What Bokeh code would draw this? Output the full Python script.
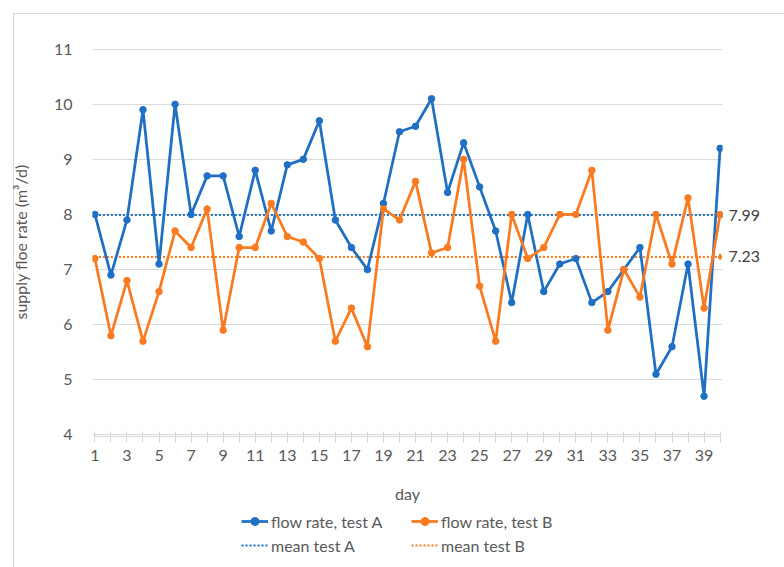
from bokeh.plotting import figure
from bokeh.models import Range1d, FixedTicker, Legend, LegendItem, LinearAxis, PrintfTickFormatter
from bokeh.layouts import column
from bokeh.embed import file_html
from bokeh.resources import INLINE

# ---- data ----
days = list(range(1, 41))
flow_a = [8.0, 6.9, 7.9, 9.9, 7.1, 10.0, 8.0, 8.7, 8.7, 7.6,
          8.8, 7.7, 8.9, 9.0, 9.7, 7.9, 7.4, 7.0, 8.2, 9.5,
          9.6, 10.1, 8.4, 9.3, 8.5, 7.7, 6.4, 8.0, 6.6, 7.1,
          7.2, 6.4, 6.6, 7.0, 7.4, 5.1, 5.6, 7.1, 4.7, 9.2]
flow_b = [7.2, 5.8, 6.8, 5.7, 6.6, 7.7, 7.4, 8.1, 5.9, 7.4,
          7.4, 8.2, 7.6, 7.5, 7.2, 5.7, 6.3, 5.6, 8.1, 7.9,
          8.6, 7.3, 7.4, 9.0, 6.7, 5.7, 8.0, 7.2, 7.4, 8.0,
          8.0, 8.8, 5.9, 7.0, 6.5, 8.0, 7.1, 8.3, 6.3, 8.0]
mean_a = 7.99
mean_b = 7.23
x_labeled_days = list(range(1, 41, 2))
x_minor_days = list(range(2, 41, 2))
y_ticks = [4, 5, 6, 7, 8, 9, 10, 11]

series_names = ["flow rate, test A", "flow rate, test B", "mean test A", "mean test B"]

BLUE = "#1f6fc5"
ORANGE = "#fa7b1f"
GRID = "#d9d9d9"
TXT = "#595959"
FONT = "Lato"

# ---------------- main chart ----------------
p = figure(width=784, height=508, output_backend="svg", toolbar_location=None,
           x_range=Range1d(0.85, 40.15), y_range=Range1d(3.97, 11.03),
           min_border_left=92, min_border_right=62, min_border_top=47,
           min_border_bottom=72)
p.outline_line_color = None
p.background_fill_color = "white"
p.border_fill_alpha = 0

# grid
p.xgrid.visible = False
p.ygrid.ticker = FixedTicker(ticks=y_ticks)
p.ygrid.grid_line_color = GRID
p.ygrid.grid_line_width = 1

# x axis
xa = p.xaxis[0]
xa.ticker = FixedTicker(ticks=x_labeled_days, minor_ticks=x_minor_days)
xa.bounds = (days[0], days[-1])
xa.axis_line_color = GRID
xa.major_tick_line_color = GRID
xa.minor_tick_line_color = GRID
xa.major_tick_in = 5
xa.major_tick_out = 6
xa.minor_tick_in = 5
xa.minor_tick_out = 6
xa.major_label_text_font = FONT
xa.major_label_text_font_size = "16px"
xa.major_label_text_color = TXT
xa.major_label_standoff = 7
xa.axis_label = "day"
xa.axis_label_text_font = FONT
xa.axis_label_text_font_size = "16px"
xa.axis_label_text_font_style = "normal"
xa.axis_label_text_color = TXT
xa.axis_label_standoff = 20

# y axis
ya = p.yaxis[0]
ya.ticker = FixedTicker(ticks=y_ticks)
ya.axis_line_color = None
ya.major_tick_line_color = None
ya.minor_tick_line_color = None
ya.major_label_text_font = FONT
ya.major_label_text_font_size = "16px"
ya.major_label_text_color = TXT
ya.major_label_standoff = 14
ya.axis_label = "supply floe rate (m³/d)"
ya.axis_label_text_font = FONT
ya.axis_label_text_font_size = "16px"
ya.axis_label_text_font_style = "normal"
ya.axis_label_text_color = TXT
ya.axis_label_standoff = 21

# right-hand axis carrying the mean value labels
means = [mean_a, mean_b]
ra = LinearAxis(ticker=FixedTicker(ticks=means), formatter=PrintfTickFormatter(format="%.2f"),
                axis_line_color=None, major_tick_line_color=None, minor_tick_line_color=None,
                major_tick_in=0, major_tick_out=0,
                major_label_text_font=FONT, major_label_text_font_size="16px",
                major_label_text_color="#404040", major_label_standoff=6)
p.add_layout(ra, "right")

# mean lines
p.line(days, [mean_a] * len(days), line_color=BLUE, line_width=2, line_dash="2 2")
p.line(days, [mean_b] * len(days), line_color=ORANGE, line_width=2, line_dash="2 2")
p.scatter([days[-1]], [mean_a], size=6, color=BLUE)
p.scatter([days[-1]], [mean_b], size=6, marker="diamond", color=ORANGE)

# series
p.line(days, flow_a, line_color=BLUE, line_width=2.75)
p.scatter(days, flow_a, size=6.5, color=BLUE)
p.line(days, flow_b, line_color=ORANGE, line_width=2.75)
p.scatter(days, flow_b, size=6.5, color=ORANGE)

# ---------------- legend strip ----------------
pl = figure(width=784, height=59, output_backend="svg", toolbar_location=None,
            x_axis_type=None, y_axis_type=None,
            x_range=Range1d(0.85, 40.15), y_range=Range1d(0, 1),
            min_border=0)
pl.outline_line_color = None
pl.background_fill_alpha = 0
pl.border_fill_alpha = 0
pl.xgrid.visible = False
pl.ygrid.visible = False

# proxy renderers (their data lie outside this strip's y range, so only the legend shows them)
g_la = pl.line(days, flow_a, line_color=BLUE, line_width=2.75)
g_sa = pl.scatter(days, flow_a, size=5.5, color=BLUE)
g_lb = pl.line(days, flow_b, line_color=ORANGE, line_width=2.75)
g_sb = pl.scatter(days, flow_b, size=5.5, color=ORANGE)
g_ma = pl.line(days, [mean_a] * len(days), line_color=BLUE, line_width=2, line_dash="2 2")
g_mb = pl.line(days, [mean_b] * len(days), line_color=ORANGE, line_width=2, line_dash="2 2")

def make_legend(items, vx):
    lg = Legend(items=items, location=(vx, 12), orientation="vertical",
                border_line_color=None, background_fill_alpha=0,
                padding=0, margin=0, spacing=4,
                glyph_width=27, glyph_height=20, label_height=20,
                label_standoff=3,
                label_text_font=FONT, label_text_font_size="16px",
                label_text_color=TXT)
    pl.add_layout(lg, "center")

make_legend([LegendItem(label=series_names[0], renderers=[g_la, g_sa]),
             LegendItem(label=series_names[2], renderers=[g_ma])], 149)
make_legend([LegendItem(label=series_names[1], renderers=[g_lb, g_sb]),
             LegendItem(label=series_names[3], renderers=[g_mb])], 319)

frame_bg = ("linear-gradient(#d9d9d9, #d9d9d9) 13px 13px / 1px 100% no-repeat, "
            "linear-gradient(#d9d9d9, #d9d9d9) 13px 13px / 100% 1px no-repeat, white")
layout = column(p, pl, spacing=0, styles={"background": frame_bg})

open("out.html", "w").write(file_html(layout, INLINE))
